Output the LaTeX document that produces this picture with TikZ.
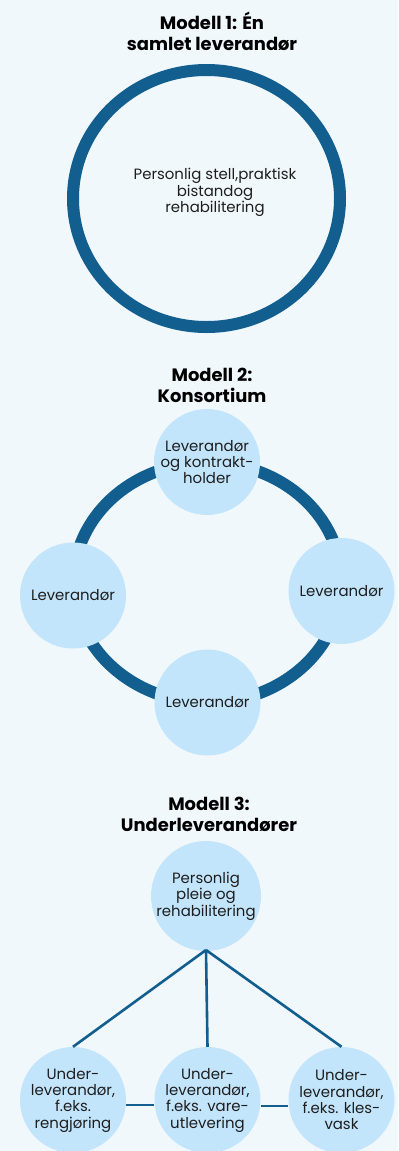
\documentclass[tikz,border=0pt]{standalone}
\usepackage{fontspec}
\setmainfont{Poppins}
\definecolor{bgc}{HTML}{F1F8FC}
\definecolor{dblue}{HTML}{115E8F}
\definecolor{lblue}{HTML}{C2E5FC}
\definecolor{txt}{HTML}{1E1E1E}
\begin{document}
\begin{tikzpicture}[x=1bp,y=-1bp,
  title/.style={font=\bfseries\fontsize{18}{21}\selectfont, align=center, text=black},
  body/.style={font=\fontsize{15}{16.4}\selectfont, align=center, text=txt},
  bubble/.style={circle, fill=lblue, minimum size=106bp, inner sep=0pt, body},
  conn/.style={draw=dblue, line width=2.6bp}]
\useasboundingbox (0,0) rectangle (398,1151);
\fill[bgc] (0,0) rectangle (398,1151);
% Model 1
\node[title] (t1) at (212,31) {Modell 1: Én\\samlet leverandør};
\draw[dblue, line width=12bp] (206.5,198.5) ellipse [x radius=133.5bp, y radius=128.5bp];
\node[body] (m1) at (215,192.5) {Personlig stell,praktisk\\bistandog\\rehabilitering};
% Model 2
\node[title] (t2) at (212,385) {Modell 2:\\Konsortium};
\draw[dblue, line width=12bp] (207.5,582.5) ellipse [x radius=134bp, y radius=120bp];
\node[bubble] (k1) at (207,462) {Leverandør\\og kontrakt-\\holder};
\node[bubble] (k2) at (73,595.5) {Leverandør};
\node[bubble] (k3) at (341.5,591) {Leverandør};
\node[bubble] (k4) at (207.5,702.5) {Leverandør};
% Model 3
\node[title] (t3) at (209,814) {Modell 3:\\Underleverandører};
\node[bubble] (p) at (206,896) {Personlig\\pleie og\\rehabilitering};
\node[bubble] (u1) at (73,1100) {Under-\\leverandør,\\f.eks.\\rengjøring};
\node[bubble] (u2) at (207.5,1100) {Under-\\leverandør,\\f.eks. vare-\\utlevering};
\node[bubble] (u3) at (341.5,1100) {Under-\\leverandør,\\f.eks. kles-\\vask};
\coordinate (apex) at (206,950);
\draw[conn] (apex) -- (u1.north);
\draw[conn] (apex) -- (u2.north);
\draw[conn] (apex) -- (u3.north);
\draw[conn] ([yshift=-5bp]u1.east) -- ([yshift=-5bp]u2.west);
\draw[conn] ([yshift=-6bp]u2.east) -- ([yshift=-6bp]u3.west);
\end{tikzpicture}
\end{document}
